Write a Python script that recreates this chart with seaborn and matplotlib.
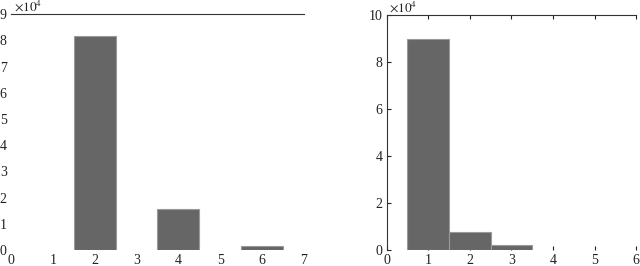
import numpy as np
import pandas as pd
import matplotlib
matplotlib.use('Agg')
import matplotlib.pyplot as plt
import seaborn as sns

sns.set_style('white')
plt.rcParams['font.family'] = ['Liberation Serif', 'DejaVu Serif']
plt.rcParams['mathtext.fontset'] = 'stix'

# left panel: bar positions and counts (x 10^4)
left_x = [2, 4, 6]
left_y = [8.15, 1.57, 0.15]
# right panel
right_x = [1, 2, 3]
right_y = [8.97, 0.75, 0.2]

bar_color = '#666666'
edge_color = '#9a9a9a'

fig = plt.figure(figsize=(6.4, 2.66), dpi=100)
ax1 = fig.add_axes([0.017, 0.06, 0.458, 0.887])
ax2 = fig.add_axes([0.604, 0.06, 0.39, 0.884])

df1 = pd.DataFrame({'x': left_x, 'y': left_y})
sns.barplot(data=df1, x='x', y='y', native_scale=True, width=0.5,
            color=bar_color, edgecolor=edge_color, linewidth=0.8,
            saturation=1, ax=ax1)
ax1.set_xlim(0, 7)
ax1.set_ylim(0, 9)
ax1.set_xticks(range(0, 8))
ax1.set_yticks(range(0, 10))
for s in ['left', 'right', 'bottom']:
    ax1.spines[s].set_visible(False)
ax1.spines['top'].set_color('#333333')
ax1.spines['top'].set_linewidth(0.8)
ax1.tick_params(axis='both', length=0, labelsize=10, pad=3, colors='#222222')
# the odd stray tick marks of the original
ax1.set_yticks([5, 7], minor=True)
ax1.set_xticks([3], minor=True)
ax1.tick_params(axis='y', which='minor', left=True, right=True, direction='in',
                length=2, color='#555555')
ax1.tick_params(axis='x', which='minor', top=True, bottom=True, direction='in',
                length=2, color='#555555')

df2 = pd.DataFrame({'x': right_x, 'y': right_y})
sns.barplot(data=df2, x='x', y='y', native_scale=True, width=1.0,
            color=bar_color, edgecolor=edge_color, linewidth=0.8,
            saturation=1, ax=ax2)
ax2.set_xlim(0, 6)
ax2.set_ylim(0, 10)
ax2.set_xticks(range(0, 7))
ax2.set_yticks(range(0, 11, 2))
for s in ['right', 'bottom']:
    ax2.spines[s].set_visible(False)
for s in ['left', 'top']:
    ax2.spines[s].set_color('#333333')
    ax2.spines[s].set_linewidth(0.8)
ax2.tick_params(axis='both', length=3, direction='in', labelsize=10, pad=3,
                colors='#222222', left=True, bottom=True, top=True)

for ax in (ax1, ax2):
    ax.set_xlabel('')
    ax.set_ylabel('')
    ax.text(0.01, 1.0, r'$\times10^4$', transform=ax.transAxes,
            fontsize=9.5, va='bottom', ha='left', color='#222222')

fig.savefig('out.png', dpi=100)
